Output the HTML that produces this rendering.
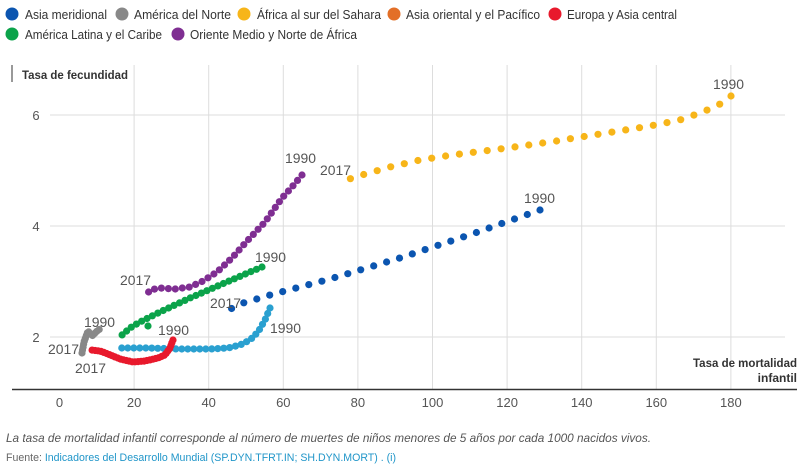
<!DOCTYPE html>
<html><head><meta charset="utf-8"><style>
body{margin:0;background:#fff;width:805px;height:470px;overflow:hidden;font-family:"Liberation Sans",sans-serif;}
svg{position:absolute;left:0;top:0}
</style></head><body>
<svg id="s" width="805" height="470" xmlns="http://www.w3.org/2000/svg" font-family="Liberation Sans, sans-serif">
<g font-size="13" fill="#333">
<circle cx="12" cy="14" r="6.5" fill="#0b55b0"/><text x="25" y="19" textLength="82" lengthAdjust="spacingAndGlyphs">Asia meridional</text>
<circle cx="122" cy="14" r="6.5" fill="#888"/><text x="134" y="19" textLength="97" lengthAdjust="spacingAndGlyphs">América del Norte</text>
<circle cx="244" cy="14" r="6.5" fill="#f7b519"/><text x="257" y="19" textLength="124" lengthAdjust="spacingAndGlyphs">África al sur del Sahara</text>
<circle cx="394" cy="14" r="6.5" fill="#e36f27"/><text x="406" y="19" textLength="134" lengthAdjust="spacingAndGlyphs">Asia oriental y el Pacífico</text>
<circle cx="555" cy="14" r="6.5" fill="#e8192c"/><text x="567" y="19" textLength="110" lengthAdjust="spacingAndGlyphs">Europa y Asia central</text>
<circle cx="12" cy="34" r="6.5" fill="#0ba34a"/><text x="25" y="39" textLength="137" lengthAdjust="spacingAndGlyphs">América Latina y el Caribe</text>
<circle cx="178" cy="34" r="6.5" fill="#7f2e92"/><text x="190" y="39" textLength="167" lengthAdjust="spacingAndGlyphs">Oriente Medio y Norte de África</text>
</g>
<g stroke="#ddd" stroke-width="1" id="grid"></g>
<line x1="12" y1="65" x2="12" y2="82" stroke="#333"/>
<text x="22" y="79" font-size="12" font-weight="bold" fill="#333" textLength="106" lengthAdjust="spacingAndGlyphs">Tasa de fecundidad</text>
<line x1="12" y1="389.5" x2="797" y2="389.5" stroke="#333" stroke-width="1.5"/>
<g font-size="13" fill="#555" id="lab"></g>
<text x="693" y="367" font-size="12" font-weight="bold" fill="#333" textLength="104" lengthAdjust="spacingAndGlyphs">Tasa de mortalidad</text>
<text x="797" y="382" font-size="12" font-weight="bold" fill="#333" text-anchor="end">infantil</text>
<g id="pts"></g>
<g font-size="14" fill="#555">
<text x="713" y="89" textLength="31" lengthAdjust="spacingAndGlyphs">1990</text>
<text x="320" y="175" textLength="31" lengthAdjust="spacingAndGlyphs">2017</text>
<text x="524" y="203" textLength="31" lengthAdjust="spacingAndGlyphs">1990</text>
<text x="285" y="163" textLength="31" lengthAdjust="spacingAndGlyphs">1990</text>
<text x="255" y="262" textLength="31" lengthAdjust="spacingAndGlyphs">1990</text>
<text x="120" y="285" textLength="31" lengthAdjust="spacingAndGlyphs">2017</text>
<text x="210" y="308" textLength="31" lengthAdjust="spacingAndGlyphs">2017</text>
<text x="158" y="335" textLength="31" lengthAdjust="spacingAndGlyphs">1990</text>
<text x="270" y="333" textLength="31" lengthAdjust="spacingAndGlyphs">1990</text>
<text x="84" y="327" textLength="31" lengthAdjust="spacingAndGlyphs">1990</text>
<text x="48" y="354" textLength="31" lengthAdjust="spacingAndGlyphs">2017</text>
<text x="75" y="373" textLength="31" lengthAdjust="spacingAndGlyphs">2017</text>
</g>
<text x="6" y="442" font-size="12" font-style="italic" fill="#555" textLength="645" lengthAdjust="spacingAndGlyphs">La tasa de mortalidad infantil corresponde al número de muertes de niños menores de 5 años por cada 1000 nacidos vivos.</text>
<text x="6" y="461" font-size="11" fill="#666" textLength="390" lengthAdjust="spacingAndGlyphs">Fuente: <tspan fill="#2196c9">Indicadores del Desarrollo Mundial (SP.DYN.TFRT.IN; SH.DYN.MORT) . (i)</tspan></text>
</svg>
<script>
var NS="http://www.w3.org/2000/svg";
function el(p,t,a,txt){var e=document.createElementNS(NS,t);for(var k in a)e.setAttribute(k,a[k]);if(txt)e.textContent=txt;p.appendChild(e);}
var g=document.getElementById('grid'),lab=document.getElementById('lab');
for(var i=0;i<=9;i++){var x=59.5+i*74.6;if(i>0)el(g,'line',{x1:x,y1:65,x2:x,y2:389});el(lab,'text',{x:x,y:407,'text-anchor':'middle'},String(i*20));}
[[6,115],[4,226],[2,337]].forEach(function(v){el(g,'line',{x1:50,y1:v[1],x2:785,y2:v[1]});el(lab,'text',{x:36,y:v[1]+5,'text-anchor':'middle'},String(v[0]));});
var P=document.getElementById('pts');
function ser(c,pts,sp,r){
 var acc=0;var out=[pts[0]];
 for(var i=1;i<pts.length;i++){var a=pts[i-1],b=pts[i],d=Math.hypot(b[0]-a[0],b[1]-a[1]);var t=sp-acc;
  while(t<=d){out.push([a[0]+(b[0]-a[0])*t/d,a[1]+(b[1]-a[1])*t/d]);t+=sp;}acc=d-(t-sp);}
 out.forEach(function(p){el(P,'circle',{cx:p[0].toFixed(1),cy:p[1].toFixed(1),r:r||3.6,fill:c});});
}
ser('#f7b519',[[731,96],[722,103],[712,108],[700,113],[680,120],[650,126],[600,134],[550,142],[500,149],[452,155],[420,160],[390,167],[362,175],[340,182]],14);
ser('#0b55b0',[[540,210],[475,233],[400,258],[330,279],[270,295],[240,304],[225,312]],13.5);
ser('#7f2e92',[[302,175],[292,187],[282,198],[265,222],[248,240],[232,258],[217,272],[203,281],[190,287],[175,289],[160,288],[150,290],[145,297]],7);
ser('#0ba34a',[[262,267],[250,272],[220,285],[190,298],[160,312],[140,322],[130,328],[122,335]],6);
el(P,'circle',{cx:148,cy:326,r:3.6,fill:'#0ba34a'});
ser('#2aa0d0',[[270,308],[265,320],[258,332],[250,340],[240,345],[228,348],[210,349],[180,349],[150,348],[118,348]],6);
ser('#e8192c',[[173,340],[170,348],[165,355],[158,358],[145,361],[133,362],[120,359],[108,354],[100,351],[91,350]],3);
ser('#888',[[82,353],[84,342],[88,331],[92,336],[96,332],[101,328]],3);
</script>
</body></html>
